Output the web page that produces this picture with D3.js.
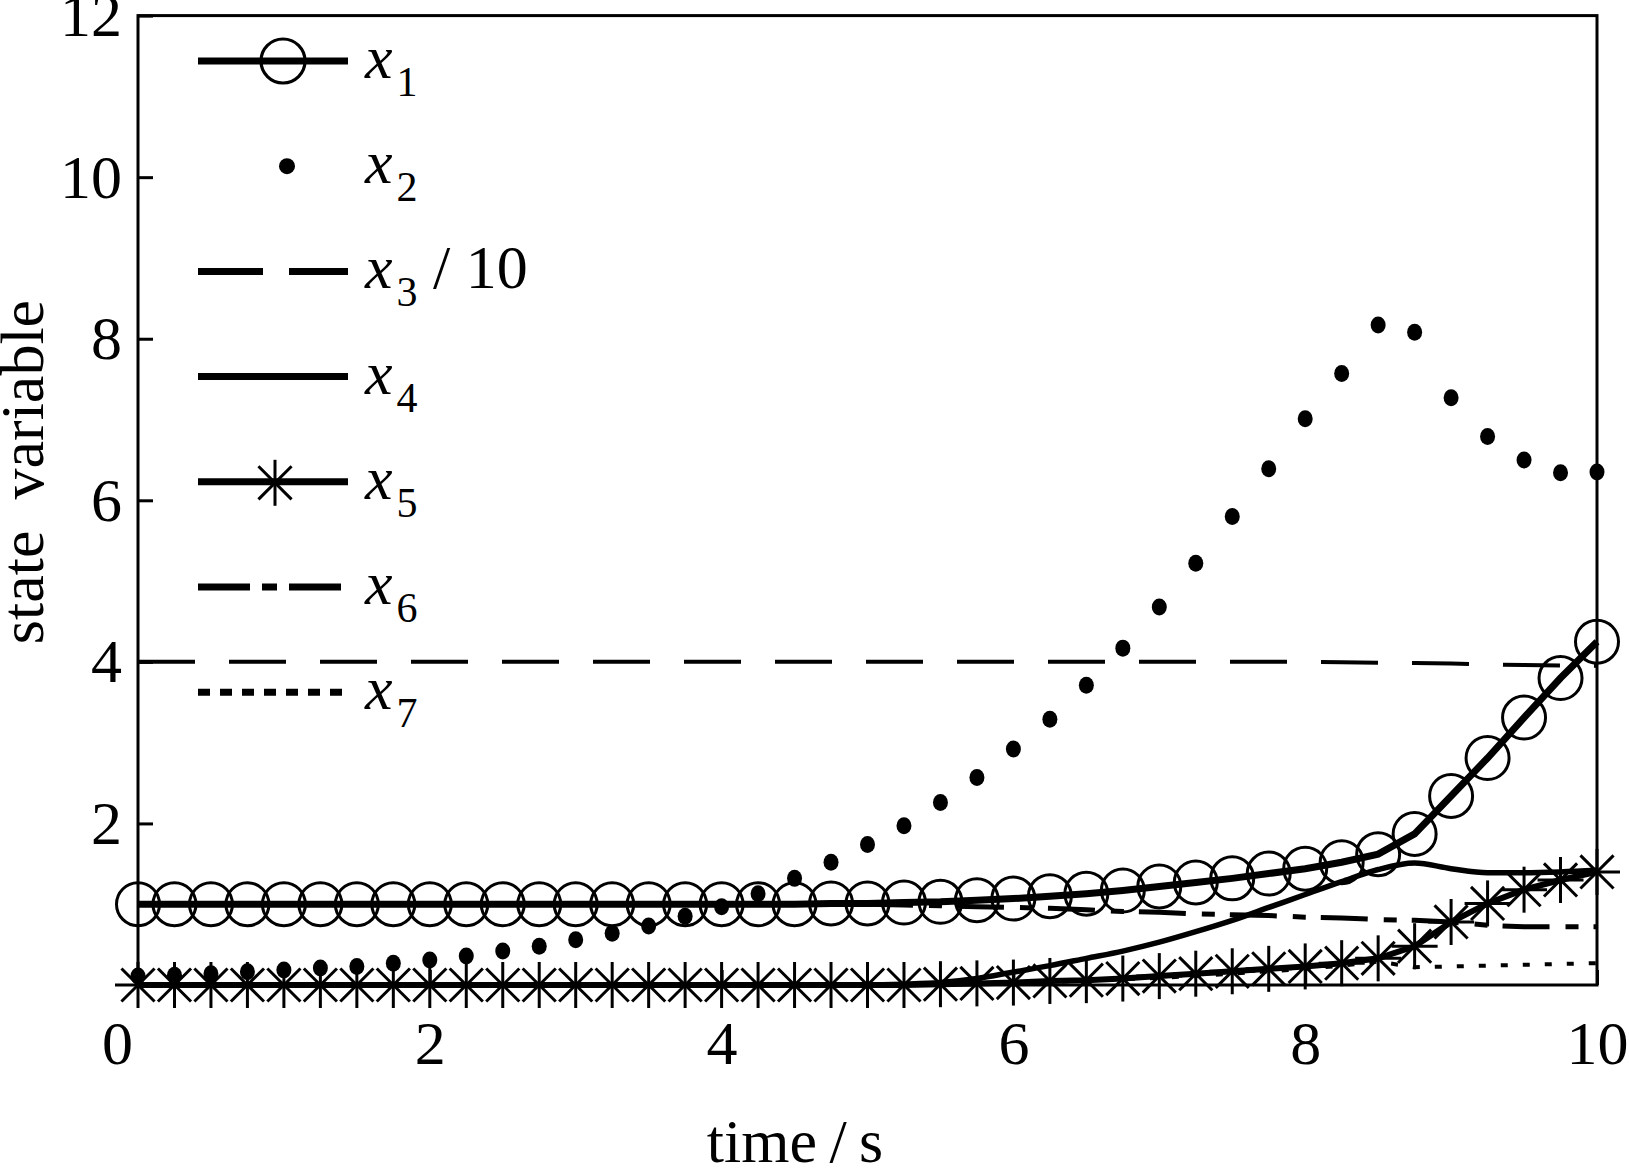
<!DOCTYPE html>
<html>
<head>
<meta charset="utf-8">
<script src="https://cdn.jsdelivr.net/npm/d3@7"></script>
<style>
  body { margin: 0; background: #fff; }
  text { font-family: "Liberation Serif", "Times New Roman", serif; fill: #000; }
</style>
</head>
<body>
<div id="chart"></div>
<script>
// sample times (s)
const time = [0, 0.25, 0.5, 0.75, 1, 1.25, 1.5, 1.75, 2, 2.25, 2.5, 2.75, 3, 3.25, 3.5, 3.75,
  4, 4.25, 4.5, 4.75, 5, 5.25, 5.5, 5.75, 6, 6.25, 6.5, 6.75, 7, 7.25, 7.5, 7.75,
  8, 8.25, 8.5, 8.75, 9, 9.25, 9.5, 9.75, 10];

// state variables
const x1 = [1, 1, 1, 1, 1, 1, 1, 1, 1, 1, 1, 1, 1, 1, 1, 1, 1, 1, 1,
  1.01, 1.01, 1.02, 1.03, 1.05, 1.07, 1.1, 1.13, 1.17, 1.22, 1.27, 1.32, 1.38,
  1.44, 1.52, 1.62, 1.87, 2.34, 2.81, 3.31, 3.8, 4.25];
const x2 = [0.11, 0.12, 0.14, 0.165, 0.185, 0.21, 0.23, 0.27, 0.31, 0.36, 0.42, 0.48, 0.56, 0.64,
  0.73, 0.85, 0.97, 1.13, 1.32, 1.52, 1.74, 1.97, 2.26, 2.57, 2.92, 3.29, 3.71, 4.17,
  4.68, 5.22, 5.8, 6.39, 7.01, 7.57, 8.17, 8.08, 7.27, 6.79, 6.5, 6.34, 6.35];
const x3div10 = [4, 4, 4, 4, 4, 4, 4, 4, 4, 4, 4, 4, 4, 4, 4, 4, 4, 4, 4, 4, 4, 4, 4, 4, 4, 4, 4, 4,
  4, 4, 4, 4, 4, 3.995, 3.99, 3.985, 3.98, 3.97, 3.96, 3.955, 3.95];
const x4 = [0, 0, 0, 0, 0, 0, 0, 0, 0, 0, 0, 0, 0, 0, 0, 0, 0, 0, 0, 0, 0,
  0.01, 0.03, 0.08, 0.16, 0.24, 0.33, 0.42, 0.53, 0.66, 0.8, 0.96, 1.12, 1.28, 1.43, 1.51,
  1.44, 1.39, 1.39, 1.4, 1.42];
const x5 = [0, 0, 0, 0, 0, 0, 0, 0, 0, 0, 0, 0, 0, 0, 0, 0, 0, 0, 0, 0, 0, 0,
  0.01, 0.02, 0.03, 0.05, 0.06, 0.08, 0.11, 0.14, 0.17, 0.2, 0.23, 0.27, 0.33, 0.48,
  0.78, 1.01, 1.18, 1.3, 1.4];
const x6 = [1, 1, 1, 1, 1, 1, 1, 1, 1, 1, 1, 1, 1, 1, 1, 1, 1, 1, 1, 1, 1,
  0.99, 0.98, 0.97, 0.96, 0.95, 0.93, 0.91, 0.9, 0.88, 0.87, 0.86, 0.84, 0.83, 0.81, 0.8,
  0.78, 0.74, 0.72, 0.72, 0.72];
const x7 = [0, 0, 0, 0, 0, 0, 0, 0, 0, 0, 0, 0, 0, 0, 0, 0, 0, 0, 0, 0, 0, 0,
  0.01, 0.02, 0.03, 0.04, 0.05, 0.07, 0.09, 0.11, 0.14, 0.17, 0.2, 0.24, 0.29, 0.22,
  0.23, 0.24, 0.25, 0.26, 0.27];

const xTicks = [0, 2, 4, 6, 8, 10];
const yTicks = [2, 4, 6, 8, 10, 12];

const W = 1629, H = 1173;
const plotL = 138, plotR = 1597, plotT = 15.6, plotB = 985;
const FS = 62;

const svg = d3.select("#chart").append("svg")
  .attr("width", W).attr("height", H);

const x = d3.scaleLinear().domain([0, 10]).range([plotL, plotR]);
const y = d3.scaleLinear().domain([0, 12]).range([plotB, plotT]);

// axes, ticks pointing inward
const xAxis = svg.append("g")
  .attr("transform", `translate(0,${plotB})`)
  .call(d3.axisBottom(x).tickValues(xTicks).tickFormat(d3.format("d"))
    .tickSizeInner(-15).tickSizeOuter(0).tickPadding(35));
const yAxis = svg.append("g")
  .attr("transform", `translate(${plotL},0)`)
  .call(d3.axisLeft(y).tickValues(yTicks).tickFormat(d3.format("d"))
    .tickSizeInner(-15).tickSizeOuter(0).tickPadding(16));

[xAxis, yAxis].forEach(g => {
  g.select(".domain").remove();
  g.selectAll(".tick line").attr("stroke", "#000").attr("stroke-width", 3);
  g.selectAll(".tick text").style("font-size", FS + "px").attr("fill", "#000");
});
// the 0 label sits a bit left of its tick
xAxis.selectAll(".tick text").filter(d => d === 0).attr("dx", -21);

// frame
svg.append("rect")
  .attr("x", plotL).attr("y", plotT)
  .attr("width", plotR - plotL).attr("height", plotB - plotT)
  .attr("fill", "none").attr("stroke", "#000").attr("stroke-width", 3);

// axis titles
svg.append("text")
  .attr("x", 795).attr("y", 1162)
  .attr("text-anchor", "middle")
  .style("font-size", FS + "px")
  .text("time\u2009/\u2009s");

svg.append("text")
  .attr("transform", "translate(43,472) rotate(-90)")
  .attr("text-anchor", "middle")
  .style("font-size", FS + "px")
  .text("state\u00a0 variable");

const pts = vals => time.map((t, i) => [t, vals[i]]);
const line = d3.line().x(d => x(d[0])).y(d => y(d[1]));
const smooth = d3.line().x(d => x(d[0])).y(d => y(d[1])).curve(d3.curveMonotoneX);

const plot = svg.append("g");

function asterisk(g, r) {
  const k = r * 0.72;
  [[-r, 0, r, 0], [0, -r, 0, r], [-k, -k, k, k], [-k, k, k, -k]]
    .forEach(s => g.append("line")
      .attr("x1", s[0]).attr("y1", s[1]).attr("x2", s[2]).attr("y2", s[3])
      .attr("stroke", "#000").attr("stroke-width", 3));
}

// x1 line + circles
plot.append("path").datum(pts(x1)).attr("d", line)
  .attr("fill", "none").attr("stroke", "#000").attr("stroke-width", 7);
plot.selectAll(".c1").data(pts(x1)).join("circle")
  .attr("cx", d => x(d[0])).attr("cy", d => y(d[1])).attr("r", 21.5)
  .attr("fill", "none").attr("stroke", "#000").attr("stroke-width", 3);

// x2 dots
plot.selectAll(".d2").data(pts(x2)).join("ellipse")
  .attr("cx", d => x(d[0])).attr("cy", d => y(d[1])).attr("rx", 7.5).attr("ry", 8.5)
  .attr("fill", "#000");

// x3/10 dashed
plot.append("path").datum(pts(x3div10)).attr("d", line)
  .attr("fill", "none").attr("stroke", "#000").attr("stroke-width", 4)
  .attr("stroke-dasharray", "57,34");

// x4 solid
plot.append("path").datum(pts(x4)).attr("d", smooth)
  .attr("fill", "none").attr("stroke", "#000").attr("stroke-width", 5.5);

// x5 line + asterisks
plot.append("path").datum(pts(x5)).attr("d", line)
  .attr("fill", "none").attr("stroke", "#000").attr("stroke-width", 6);
pts(x5).forEach(d => {
  const g = plot.append("g").attr("transform", `translate(${x(d[0])},${y(d[1])})`);
  asterisk(g, 23);
});

// x6 dash-dot
plot.append("path").datum(pts(x6)).attr("d", line)
  .attr("fill", "none").attr("stroke", "#000").attr("stroke-width", 5)
  .attr("stroke-dasharray", "47,16,13,15");

// x7 dotted
plot.append("path").datum(pts(x7)).attr("d", line)
  .attr("fill", "none").attr("stroke", "#000").attr("stroke-width", 4)
  .attr("stroke-dasharray", "7,15");

// legend
const legendItems = [
  {sub: "1", dash: null, marker: "circle"},
  {sub: "2", dash: null, marker: "dot", noLine: true},
  {sub: "3", dash: "65,26", marker: null, tail: " / 10"},
  {sub: "4", dash: null, marker: null},
  {sub: "5", dash: null, marker: "star"},
  {sub: "6", dash: "52,12,15,12", marker: null},
  {sub: "7", dash: "12,10", marker: null}
];
const legY0 = 61, legDy = 105.2, lx0 = 198, lx1 = 348;

legendItems.forEach((it, i) => {
  const ly = legY0 + i * legDy;
  const g = svg.append("g");
  if (!it.noLine) {
    g.append("line").attr("x1", lx0).attr("x2", lx1).attr("y1", ly).attr("y2", ly)
      .attr("stroke", "#000").attr("stroke-width", 7)
      .attr("stroke-dasharray", it.dash);
  }
  if (it.marker === "circle") {
    g.append("circle").attr("cx", 283).attr("cy", ly).attr("r", 22)
      .attr("fill", "none").attr("stroke", "#000").attr("stroke-width", 3.2);
  } else if (it.marker === "dot") {
    g.append("circle").attr("cx", 287).attr("cy", ly).attr("r", 8).attr("fill", "#000");
  } else if (it.marker === "star") {
    asterisk(g.append("g").attr("transform", `translate(275,${ly + 1})`), 23);
  }
  const t = g.append("text").attr("x", 365).attr("y", ly + 17).style("font-size", FS + "px");
  t.append("tspan").style("font-style", "italic").text("x");
  t.append("tspan").attr("dx", 4).attr("dy", 18).style("font-size", "42px").text(it.sub);
  if (it.tail) t.append("tspan").attr("dy", -18).text(it.tail);
});
</script>
</body>
</html>
